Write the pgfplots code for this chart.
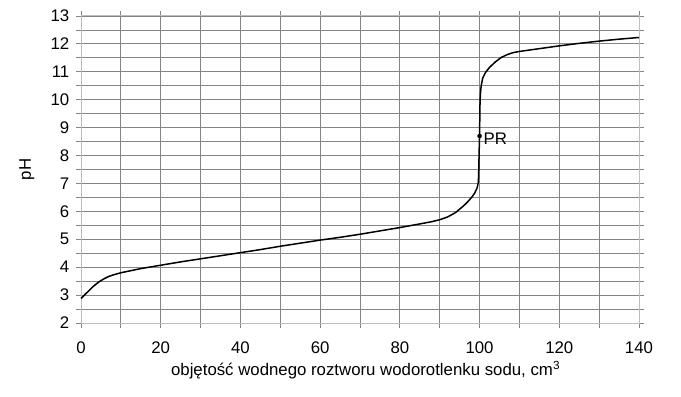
\documentclass[border=0pt]{standalone}
\usepackage{fontspec}
\setmainfont{Liberation Sans}
\usepackage{pgfplots}
\pgfplotsset{compat=1.18}
\definecolor{gridc}{HTML}{858585}
\definecolor{axc}{HTML}{BDBDBD}
\newcommand{\chfont}{\fontsize{16.8}{20}\selectfont}
\begin{document}
\chfont
\begin{tikzpicture}
\begin{axis}[
  scale only axis,
  width=558pt, height=307pt,
  xmin=0, xmax=140, ymin=2, ymax=13,
  xtick={0,20,...,140},
  minor xtick={10,30,...,130},
  ytick={2,3,...,13},
  minor ytick={2.5,3.5,...,12.5},
  grid=both,
  major grid style={gridc, line width=0.9pt},
  minor grid style={gridc, line width=0.9pt},
  axis line style={axc, line width=1pt},
  tick style={gridc, line width=0.9pt},
  tick align=outside,
  major tick length=5pt,
  minor tick length=5pt,
  /pgf/number format/assume math mode=true,
  tick label style={font=\chfont, black},
  xticklabel style={yshift=-8pt},
  yticklabel style={xshift=-1pt},
  xlabel={objętość wodnego roztworu wodorotlenku sodu, cm\textsuperscript{3}},
  ylabel={pH},
  label style={font=\chfont},
  xlabel style={at={(axis description cs:0.51,-0.153)}, anchor=center},
  ylabel style={at={(axis description cs:-0.097,0.5)}, anchor=center},
  clip=false,
]
\addplot[black, line width=1.5pt] coordinates {
(0,2.88) (1,3.02) (2,3.16) (3,3.3) (4,3.42) (5,3.52) (6,3.6) (7,3.67) (8,3.72) (9,3.76) (10,3.8)
(12,3.86) (15,3.95) (20,4.07) (25,4.19) (30,4.3) (35,4.41) (40,4.52) (45,4.63) (50,4.75)
(55,4.86) (60,4.97) (65,5.07) (70,5.18) (75,5.3) (80,5.42) (85,5.55) (88,5.63) (90,5.7)
(92,5.8) (94,5.96) (96,6.2) (97,6.34) (98,6.5) (98.8,6.66) (99.4,6.85) (99.7,7.05)
(99.8,7.5) (99.9,8.2) (100,8.7) (100.05,9.3) (100.1,9.8) (100.2,10.2) (100.4,10.5)
(100.8,10.78) (101.5,10.98) (102.5,11.16) (104,11.36) (105.5,11.52) (107,11.62) (108.5,11.69)
(110,11.73) (115,11.83) (120,11.93) (125,12.02) (130,12.1) (135,12.17) (140,12.23)
};
\addplot[only marks, mark=*, mark size=2pt, black] coordinates {(100,8.7)};
\node[anchor=west, inner sep=1pt, font=\chfont] at (axis cs:100.7,8.62) {PR};
\end{axis}
\path ([xshift=-81pt,yshift=-73pt]current axis.south west) rectangle ([xshift=42pt,yshift=16pt]current axis.north east);
\end{tikzpicture}
\end{document}
